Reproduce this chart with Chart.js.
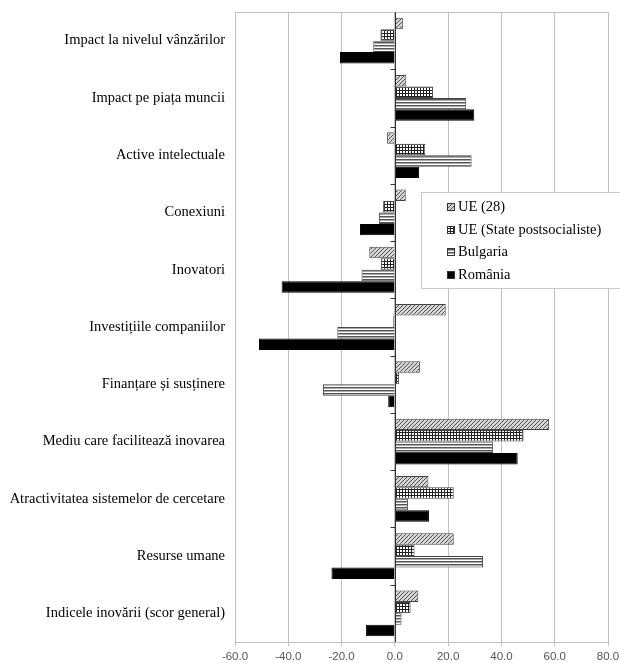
<!DOCTYPE html>
<html>
<head>
<meta charset="utf-8">
<script src="https://cdn.jsdelivr.net/npm/chart.js@4.4.1/dist/chart.umd.min.js"></script>
<style>
  html, body { margin: 0; padding: 0; background: #fff; }
  #wrap { width: 620px; height: 663px; }
</style>
</head>
<body>
<div id="wrap"><canvas id="chart"></canvas></div>
<script>
// --- Data ---
const categories = [
  'Impact la nivelul vânzărilor',
  'Impact pe piața muncii',
  'Active intelectuale',
  'Conexiuni',
  'Inovatori',
  'Investițiile companiilor',
  'Finanțare și susținere',
  'Mediu care facilitează inovarea',
  'Atractivitatea sistemelor de cercetare',
  'Resurse umane',
  'Indicele inovării (scor general)'
];
const seriesNames = ['UE (28)', 'UE (State postsocialiste)', 'Bulgaria', 'România'];
const ue28     = [3.0, 4.3, -2.9, 4.1, -9.6, 19.1, 9.5, 57.9, 12.6, 22.1, 8.8];
const uePost   = [-5.4, 14.4, 11.4, -4.4, -5.3, -0.6, 1.6, 48.3, 22.1, 7.4, 5.9];
const bulgaria = [-8.1, 26.8, 28.8, -6.0, -12.5, -21.6, -27.0, 36.9, 4.9, 33.1, 2.5];
const romania  = [-20.6, 29.8, 9.1, -13.1, -42.5, -51.0, -2.5, 46.1, 12.8, -23.8, -10.9];
const xTicks = [-60, -40, -20, 0, 20, 40, 60, 80];

// --- Fill patterns ---
function makePattern(kind) {
  const c = document.createElement('canvas');
  const g = c.getContext('2d');
  if (kind === 'hatch') {
    c.width = 4; c.height = 4;
    g.fillStyle = '#d4d4d4';
    g.fillRect(0, 0, 4, 4);
    g.strokeStyle = '#555';
    g.lineWidth = 1;
    g.beginPath();
    g.moveTo(0, 4); g.lineTo(4, 0);
    g.moveTo(-1, 1); g.lineTo(1, -1);
    g.moveTo(3, 5); g.lineTo(5, 3);
    g.stroke();
  } else if (kind === 'grid') {
    c.width = 3; c.height = 3;
    g.fillStyle = '#fff';
    g.fillRect(0, 0, 3, 3);
    g.fillStyle = '#222';
    g.fillRect(0, 0, 1, 3);
    g.fillRect(0, 0, 3, 1);
  } else {
    c.width = 2; c.height = 3;
    g.fillStyle = '#fff';
    g.fillRect(0, 0, 2, 3);
    g.fillStyle = '#555';
    g.fillRect(0, 0, 2, 1);
    g.fillStyle = '#aaa';
    g.fillRect(0, 1, 2, 1);
  }
  return g.createPattern(c, 'repeat');
}

const fills = [makePattern('hatch'), makePattern('grid'), makePattern('lines'), '#000'];
const seriesData = [ue28, uePost, bulgaria, romania];

// --- Plugin: frame, zero axis with tick marks, legend box ---
const decorations = {
  id: 'decorations',
  beforeDatasetsDraw(chart) {
    const { ctx, chartArea } = chart;
    ctx.save();
    ctx.strokeStyle = '#c0c0c0';
    ctx.lineWidth = 1;
    ctx.beginPath();
    ctx.moveTo(chartArea.left, chartArea.top + 0.5);
    ctx.lineTo(chartArea.right, chartArea.top + 0.5);
    ctx.stroke();
    ctx.restore();
  },
  afterDatasetsDraw(chart) {
    const { ctx, chartArea, scales } = chart;
    const x0 = Math.round(scales.x.getPixelForValue(0)) + 0.5;
    ctx.save();
    ctx.strokeStyle = '#333';
    ctx.lineWidth = 1;
    ctx.beginPath();
    ctx.moveTo(x0, chartArea.top);
    ctx.lineTo(x0, chartArea.bottom);
    const step = (chartArea.bottom - chartArea.top) / categories.length;
    for (let i = 1; i < categories.length; i++) {
      const y = Math.round(chartArea.top + i * step) + 0.5;
      ctx.moveTo(x0 - 5, y);
      ctx.lineTo(x0, y);
    }
    ctx.stroke();

    // legend
    const lx = 421, ly = 192, lw = 201, lh = 96;
    ctx.fillStyle = '#fff';
    ctx.fillRect(lx, ly, lw, lh);
    ctx.strokeStyle = '#c8c8c8';
    ctx.strokeRect(lx + 0.5, ly + 0.5, lw, lh);
    ctx.font = "14.5px 'Liberation Serif', serif";
    ctx.textBaseline = 'middle';
    seriesNames.forEach((name, i) => {
      const cy = ly + 15 + i * 22.7;
      ctx.fillStyle = fills[i];
      ctx.fillRect(447, Math.round(cy - 4), 8, 8);
      ctx.strokeStyle = '#333';
      ctx.strokeRect(447.5, Math.round(cy - 4) + 0.5, 7, 7);
      ctx.fillStyle = '#000';
      ctx.fillText(name, 458, cy);
    });
    ctx.restore();
  }
};

new Chart(document.getElementById('chart'), {
  type: 'bar',
  data: {
    labels: categories,
    datasets: seriesNames.map((name, i) => ({
      label: name,
      data: seriesData[i],
      backgroundColor: fills[i],
      borderColor: i === 3 ? '#000' : '#444',
      borderWidth: 1,
      categoryPercentage: 0.8,
      barPercentage: 1.0
    }))
  },
  options: {
    indexAxis: 'y',
    responsive: true,
    maintainAspectRatio: false,
    animation: false,
    layout: { padding: { top: 12, right: 12, left: 0, bottom: 0 } },
    plugins: {
      legend: { display: false },
      tooltip: { enabled: false }
    },
    scales: {
      x: {
        min: -60,
        max: 80,
        afterBuildTicks(scale) {
          scale.ticks = xTicks.map(v => ({ value: v }));
        },
        afterFit(scale) {
          scale.height = 21;
          scale.paddingLeft = 0;
          scale.paddingRight = 0;
        },
        grid: { color: '#c0c0c0', tickLength: 4, lineWidth: 1 },
        border: { display: true, color: '#c0c0c0' },
        ticks: {
          padding: 4,
          color: '#555',
          font: { family: "'Liberation Sans', Arial, sans-serif", size: 11.5 },
          callback: v => Number(v).toFixed(1)
        }
      },
      y: {
        afterFit(scale) {
          scale.width = 235;
          scale.paddingTop = 0;
          scale.paddingBottom = 0;
        },
        grid: { display: false },
        border: { display: false },
        ticks: {
          padding: 2,
          color: '#000',
          font: { family: "'Liberation Serif', 'Times New Roman', serif", size: 14.5 }
        }
      }
    }
  },
  plugins: [decorations]
});
</script>
</body>
</html>
